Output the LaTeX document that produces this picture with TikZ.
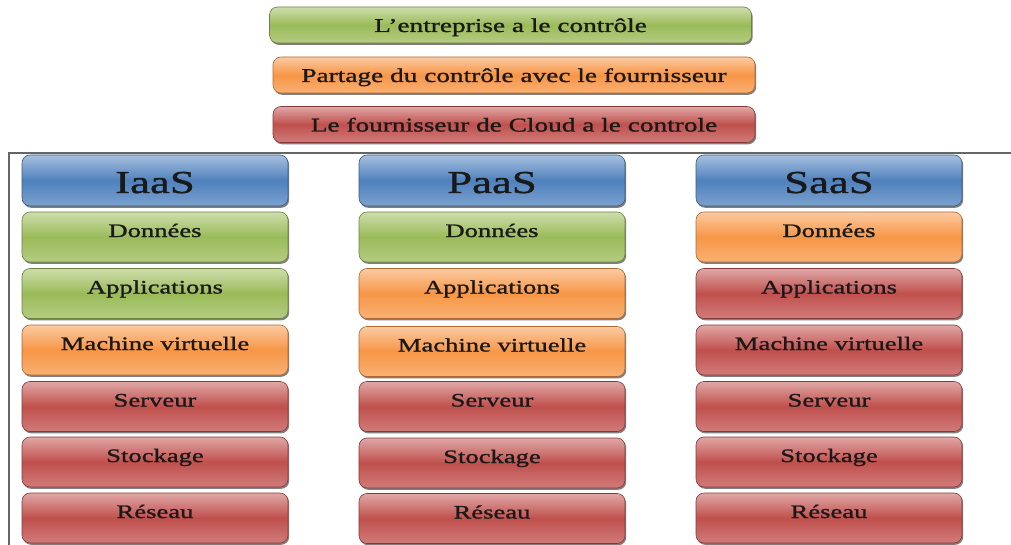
\documentclass[tikz,border=0pt]{standalone}
\usepackage{fontspec}
\setmainfont{Liberation Serif}[FakeStretch=1.4, FakeBold=1.2]
\usepackage{tikz}
\usetikzlibrary{shadows}
\pgfdeclarelayer{bg}
\pgfsetlayers{bg,main}

\definecolor{vert}{RGB}{155,187,89}
\definecolor{orng}{RGB}{247,150,70}
\definecolor{rouge}{RGB}{192,80,77}
\definecolor{bleu}{RGB}{79,129,189}

\tikzset{
  bloc/.style={rounded corners=8pt, draw=#1!70!black, line width=.6pt,
    top color=#1!50!white, bottom color=#1!75!white, middle color=#1,
    inner sep=0pt, text=black!90,
    drop shadow={shadow xshift=1.2pt, shadow yshift=-1.8pt, opacity=.5, fill=black}},
  legende/.style={bloc=#1, minimum width=482pt, minimum height=36pt,
    font=\fontsize{19.5}{22}\selectfont, text height=14pt, text depth=0pt},
  titre/.style={bloc=bleu, minimum width=266pt, minimum height=51pt,
    font=\fontsize{32}{36}\selectfont, text height=25pt, text depth=0pt},
  couche/.style={bloc=#1, minimum width=266pt, minimum height=50pt,
    font=\fontsize{19}{22}\selectfont, text height=13pt, text depth=13pt},
  cadre/.style={draw=black!60, line width=1.5pt}
}

\begin{document}
\begin{tikzpicture}[x=1pt, y=-1pt]
        \useasboundingbox (0,0) rectangle (1011,545);
        % legende
        \node (l0) [legende=vert] at (510.5, 25) {L’entreprise a le contrôle};
        \node (l1) [legende=orng] at (514, 75) {Partage du contrôle avec le fournisseur};
        \node (l2) [legende=rouge] at (514, 124.5) {Le fournisseur de Cloud a le controle};
        % IaaS
        \node (i0) [titre] at (155, 180.5) {IaaS};
        \node (i1) [couche=vert] at (155, 237) {Données};
        \node (i2) [couche=vert] at (155, 293.5) {Applications};
        \node (i3) [couche=orng] at (155, 350) {Machine virtuelle};
        \node (i4) [couche=rouge] at (155, 406.5) {Serveur};
        \node (i5) [couche=rouge] at (155, 462) {Stockage};
        \node (i6) [couche=rouge] at (155, 518) {Réseau};
        % PaaS
        \node (p0) [titre] at (492, 180.5) {PaaS};
        \node (p1) [couche=vert] at (492, 237) {Données};
        \node (p2) [couche=orng] at (492, 293.5) {Applications};
        \node (p3) [couche=orng] at (492, 351.5) {Machine virtuelle};
        \node (p4) [couche=rouge] at (492, 406.5) {Serveur};
        \node (p5) [couche=rouge] at (492, 463) {Stockage};
        \node (p6) [couche=rouge] at (492, 518.5) {Réseau};
        % SaaS
        \node (s0) [titre] at (829, 180.5) {SaaS};
        \node (s1) [couche=orng] at (829, 237) {Données};
        \node (s2) [couche=rouge] at (829, 293.5) {Applications};
        \node (s3) [couche=rouge] at (829, 350) {Machine virtuelle};
        \node (s4) [couche=rouge] at (829, 406.5) {Serveur};
        \node (s5) [couche=rouge] at (829, 462) {Stockage};
        \node (s6) [couche=rouge] at (829, 518) {Réseau};
        \begin{pgfonlayer}{bg}
                \coordinate (c0) at (9, 545);
                \coordinate (c1) at (9, 153);
                \coordinate (c2) at (1011, 153);
                \draw [cadre] (c0) -- (c1) -- (c2);
        \end{pgfonlayer}
\end{tikzpicture}
\end{document}
